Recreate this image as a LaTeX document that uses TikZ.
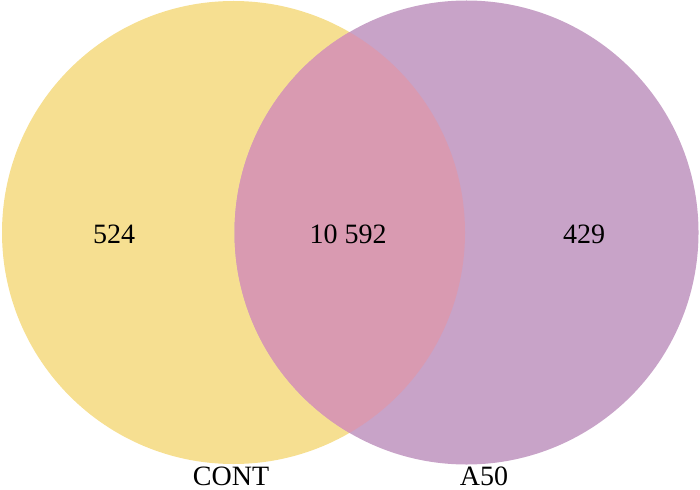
\documentclass[tikz,border=0pt]{standalone}
\usepackage{fontspec}
\setmainfont{Liberation Serif}
\definecolor{vyellow}{HTML}{F6DF91}
\definecolor{vpurple}{HTML}{C8A3C8}
\definecolor{voverlap}{HTML}{D99AB1}
\begin{document}
\begin{tikzpicture}[x=1pt,y=-1pt,
  lbl/.style={anchor=base,inner sep=0pt,font=\fontsize{28}{30}\selectfont}]
\useasboundingbox (0,0) rectangle (700,489);
\fill[vyellow] (233.5,232.5) circle (231.5);
\fill[vpurple] (466.5,232.5) circle (232);
\begin{scope}
  \clip (233.5,232.5) circle (231.5);
  \fill[voverlap] (466.5,232.5) circle (232);
\end{scope}
\node[lbl] (a) at (114,243) {524};
\node[lbl] (ab) at (348,243) {10 592};
\node[lbl] (b) at (584,243) {429};
\node[lbl] (na) at (231,485) {CONT};
\node[lbl] (nb) at (484,485) {A50};
\end{tikzpicture}
\end{document}
